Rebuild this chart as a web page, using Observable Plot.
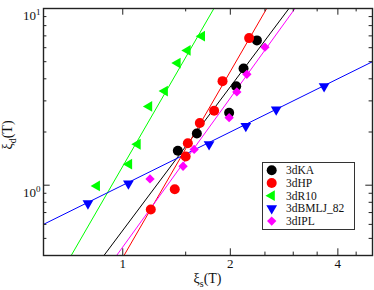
<!DOCTYPE html>
<html><head><meta charset="utf-8">
<script src="https://cdn.jsdelivr.net/npm/d3@7"></script>
<script src="https://cdn.jsdelivr.net/npm/@observablehq/plot@0.6"></script>
<style>body{margin:0;background:#fff} #chart svg{display:block}</style>
</head><body><div id="chart"></div>
<script>
// ---- data ----
const seriesNames = ["3dKA", "3dHP", "3dR10", "3dBMLJ_82", "3dIPL"];
const seriesColors = ["#000000", "#ff0000", "#00ff00", "#0000ff", "#ff00ff"];
const seriesSymbols = ["circle", "circle", "triangle", "triangle", "diamond2"];
const seriesRotate = [0, 0, -90, 180, 0];
const seriesR = [5, 5, 4, 4, 4.2];

const kaXiS = [1.426, 1.612, 1.985, 2.077, 2.178, 2.374];
const kaXiD = [1.566, 1.96, 2.57, 3.63, 4.58, 6.6];
const hpXiS = [1.198, 1.398, 1.50, 1.521, 1.643, 1.802, 1.902, 2.258];
const hpXiD = [0.729, 0.949, 1.453, 1.727, 2.25, 2.64, 3.88, 6.80];
const r10XiS = [0.846, 1.041, 1.10, 1.185, 1.311, 1.423, 1.518, 1.665];
const r10XiD = [0.99, 1.314, 1.705, 2.79, 3.41, 4.91, 5.79, 6.97];
const bmljXiS = [0.799, 1.037, 1.744, 2.21, 2.688, 3.66];
const bmljXiD = [0.788, 1.022, 1.705, 2.16, 2.68, 3.63];
const iplXiS = [1.192, 1.475, 1.584, 1.985, 2.086, 2.225, 2.50];
const iplXiD = [1.085, 1.28, 1.593, 2.41, 3.37, 4.24, 6.04];

// power-law fits  xi_d = A * xi_s^b
const fitPrefactor = [0.555, 0.389, 1.28, 1.0, 0.447];
const fitExponent = [2.7, 3.5, 3.5, 1.0, 2.8];

const xMajorTicks = [1, 2, 4];
const xMinorTicks = [1.5, 2.5, 3, 3.5, 4.5];
const yMajorTicks = [1, 10];
const yMinorTicks = [0.5, 0.6, 0.7, 0.8, 0.9, 2, 3, 4, 5, 6, 7, 8, 9];

const xDomain = [0.6, 5];
const yDomain = [0.4, 10];

// ---- layout ----
const W = 374, H = 290, mL = 43, mR = 2, mT = 8, mB = 35;
const innerW = W - mL - mR, innerH = H - mT - mB;
const font = "'Liberation Serif', 'Times New Roman', serif";
const majorLen = 6.7, minorLen = 3.4;

const seriesX = [kaXiS, hpXiS, r10XiS, bmljXiS, iplXiS];
const seriesY = [kaXiD, hpXiD, r10XiD, bmljXiD, iplXiD];

const fitLines = [];
seriesNames.forEach((n, i) => xDomain.forEach(x =>
  fitLines.push({x, y: fitPrefactor[i] * Math.pow(x, fitExponent[i]), s: i})));

const dotMarks = seriesNames.map((n, i) => Plot.dot(
  seriesX[i].map((x, j) => ({x, y: seriesY[i][j]})),
  {x: "x", y: "y", fill: seriesColors[i], stroke: "none",
   symbol: seriesSymbols[i], rotate: seriesRotate[i], r: seriesR[i]}));

const tickStyle = {stroke: "#222", strokeWidth: 1};

const plot = Plot.plot({
  width: W, height: H,
  marginLeft: mL, marginRight: mR, marginTop: mT, marginBottom: mB,
  x: {type: "log", domain: xDomain},
  y: {type: "log", domain: yDomain},
  style: {fontFamily: font, background: "#fff", overflow: "visible"},
  marks: [
    Plot.line(fitLines, {x: "x", y: "y", z: "s", stroke: d => seriesColors[d.s], strokeWidth: 1, clip: true}),
    ...dotMarks,
    // inward ticks, bottom & top
    Plot.tickX(xMajorTicks, {x: d => d, insetTop: innerH - majorLen, ...tickStyle}),
    Plot.tickX(xMinorTicks, {x: d => d, insetTop: innerH - minorLen, ...tickStyle}),
    Plot.tickX(xMajorTicks, {x: d => d, insetBottom: innerH - majorLen, ...tickStyle}),
    Plot.tickX(xMinorTicks, {x: d => d, insetBottom: innerH - minorLen, ...tickStyle}),
    // inward ticks, left & right
    Plot.tickY(yMajorTicks, {y: d => d, insetRight: innerW - majorLen, ...tickStyle}),
    Plot.tickY(yMinorTicks, {y: d => d, insetRight: innerW - minorLen, ...tickStyle}),
    Plot.tickY(yMajorTicks, {y: d => d, insetLeft: innerW - majorLen, ...tickStyle}),
    Plot.tickY(yMinorTicks, {y: d => d, insetLeft: innerW - minorLen, ...tickStyle}),
    Plot.axisX({ticks: xMajorTicks, tickSize: 0, tickPadding: 3, tickFormat: d => String(d),
      label: null, fontSize: 13, fontFamily: font, fill: "#111"}),
    Plot.axisY({ticks: yMajorTicks, tickSize: 0, tickPadding: 3, tickFormat: d => "10^" + Math.round(Math.log10(d)),
      label: null, fontSize: 13, fontFamily: font, fill: "#111"}),
    Plot.frame({stroke: "#222", strokeWidth: 1.4})
  ],
  color: {type: "identity"}
});

document.getElementById("chart").appendChild(plot);
const svg = d3.select(plot);

// superscripts on y tick labels
svg.selectAll('g[aria-label="y-axis tick label"] text').each(function() {
  const t = d3.select(this);
  const [base, exp] = t.text().split("^");
  t.text(null).attr("dy", "0.55em");
  t.append("tspan").text(base);
  t.append("tspan").attr("dy", "-0.55em").attr("font-size", 9).text(exp);
});

// axis labels
const xl = svg.append("text").attr("x", mL + innerW / 2).attr("y", 283)
  .attr("text-anchor", "middle").attr("font-family", font).attr("font-size", 14).attr("fill", "#111");
xl.append("tspan").text("ξ");
xl.append("tspan").attr("dy", 4).attr("font-size", 10).text("s");
xl.append("tspan").attr("dy", -4).text("(T)");

const yl = svg.append("text").attr("transform", `translate(12,135) rotate(-90)`)
  .attr("text-anchor", "middle").attr("font-family", font).attr("font-size", 14).attr("fill", "#111");
yl.append("tspan").text("ξ");
yl.append("tspan").attr("dy", 4).attr("font-size", 10).text("d");
yl.append("tspan").attr("dy", -4).text("(T)");

// legend
const lg = svg.append("g");
lg.append("rect").attr("x", 262.5).attr("y", 162.5).attr("width", 92).attr("height", 67)
  .attr("fill", "#fff").attr("stroke", "#333").attr("stroke-width", 1);
const symMap = {circle: d3.symbolCircle, triangle: d3.symbolTriangle, diamond2: d3.symbolDiamond2};
seriesNames.forEach((n, i) => {
  const cy = 170.3 + i * 12.7;
  lg.append("path")
    .attr("d", d3.symbol(symMap[seriesSymbols[i]], Math.PI * seriesR[i] * seriesR[i])())
    .attr("transform", `translate(271.7,${cy}) rotate(${seriesRotate[i]})`)
    .attr("fill", seriesColors[i]);
  lg.append("text").attr("x", 286).attr("y", cy).attr("dy", "0.35em").attr("text-anchor", "start")
    .attr("font-family", font).attr("font-size", 11.5).attr("fill", "#111").text(n);
});
</script>
</body></html>
